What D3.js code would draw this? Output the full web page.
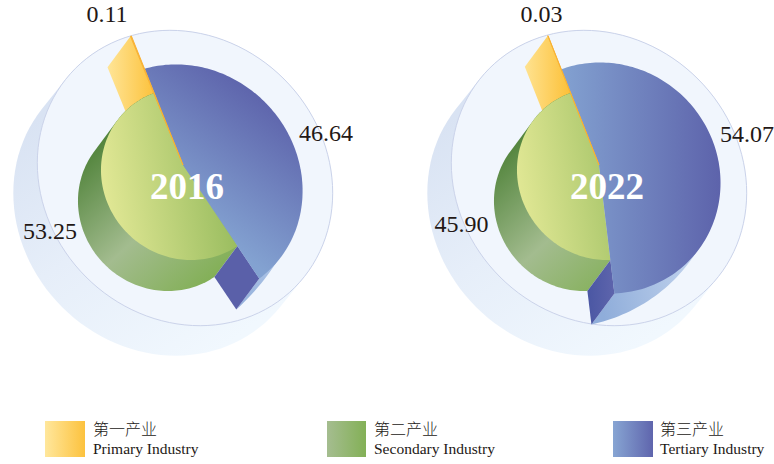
<!DOCTYPE html>
<html><head><meta charset="utf-8">
<script src="https://cdn.jsdelivr.net/npm/d3@7"></script>
<style>html,body{margin:0;padding:0;background:#fff}svg{display:block}</style>
</head><body><svg id="c" width="774" height="464"></svg>
<script>
const years = ["2016", "2022"];
const primary = [0.11, 0.03];
const secondary = [53.25, 45.90];
const tertiary = [46.64, 54.07];
const legendZh = ["第一产业", "第二产业", "第三产业"];
const legendEn = ["Primary Industry", "Secondary Industry", "Tertiary Industry"];

const SERIF = '"Liberation Serif","Times New Roman",serif';
const INK = "#231815";
const DEG = Math.PI / 180;
const layout = [
  { dx: 0, v: [183, 165], a0: -21.8, blue: { c: [185, 182], a: 122, b: 113 }, green: { c: [187, 174], a: 88, b: 84 },
    sweepFrom: 92, sweepPow: 1.8, year: [150, 199],
    labels: [[86.5, 22], [23, 239], [299, 141]], blueGrad: [[215, 235], [300, 120]], creGrad: [[229, 309], [300, 220]] },
  { dx: 414, v: [599, 165], a0: -21.5, blue: { c: [605, 178], a: 118, b: 113 }, green: { c: [603, 174], a: 88, b: 84 },
    sweepFrom: 88, sweepPow: 1.3, year: [570, 199],
    labels: [[520.5, 22], [434.5, 232], [720, 142]], blueGrad: [[560, 170], [720, 170]], creGrad: [[600, 300], [705, 280]] }
];
const extrude = [-23, 31];
const disc = { c: [185, 178], a: 155, b: 140, shift: [-24, 30] };
const legendLayout = { swatchX: [45, 327, 613], swatchW: [40, 39, 40], textX: [93, 374, 660], y: 421, h: 36, zhY: 435, enY: 454 };

const svg = d3.select("#c");
const defs = svg.append("defs");
function grad(id, p0, p1, stops, bbox) {
  const g = defs.append("linearGradient").attr("id", id);
  if (bbox) g.attr("x1", 0).attr("x2", 1).attr("y1", 0).attr("y2", 0);
  else g.attr("gradientUnits", "userSpaceOnUse").attr("x1", p0[0]).attr("y1", p0[1]).attr("x2", p1[0]).attr("y2", p1[1]);
  stops.forEach(s => g.append("stop").attr("offset", s[0]).attr("stop-color", s[1]));
}
grad("lg0", null, null, [[0, "#ffe79c"], [1, "#fcc23e"]], true);
grad("lg1", null, null, [[0, "#a5bd90"], [1, "#83b056"]], true);
grad("lg2", null, null, [[0, "#87a5d3"], [1, "#5f65ad"]], true);

function ellipsePoints(c, a, b, n) {
  return d3.range(n).map(i => {
    const t = i / n * 2 * Math.PI, u = a * Math.cos(t), v = b * Math.sin(t);
    return [c[0] + (u + v) * Math.SQRT1_2, c[1] + (u - v) * Math.SQRT1_2];
  });
}
function hit(v, e, theta) {
  const dx = Math.sin(theta), dy = -Math.cos(theta);
  const wx = v[0] - e.c[0], wy = v[1] - e.c[1];
  const du = (dx + dy) * Math.SQRT1_2, dv = (dx - dy) * Math.SQRT1_2;
  const wu = (wx + wy) * Math.SQRT1_2, wv = (wx - wy) * Math.SQRT1_2;
  const A = du * du / (e.a * e.a) + dv * dv / (e.b * e.b);
  const B = 2 * (wu * du / (e.a * e.a) + wv * dv / (e.b * e.b));
  const C = wu * wu / (e.a * e.a) + wv * wv / (e.b * e.b) - 1;
  return (-B + Math.sqrt(B * B - 4 * A * C)) / (2 * A);
}
const polar = (v, r, th) => [v[0] + r * Math.sin(th), v[1] - r * Math.cos(th)];
const lineGen = d3.line();
const angleSteps = (a, b) => { const n = Math.max(2, Math.ceil(Math.abs(b - a) / (1.5 * DEG))); return d3.range(n + 1).map(i => a + (b - a) * i / n); };

years.forEach((year, i) => {
  const L = layout[i], id = "y" + i, V = L.v, E = extrude;
  const G = svg.append("g");
  const add = p => [p[0] + E[0], p[1] + E[1]];

  grad(id + "disc", [50 + L.dx, 110], [220 + L.dx, 350], [[0, "#d9e3f3"], [0.45, "#e6eef9"], [1, "#f1f8fe"]]);
  grad(id + "greenTop", [105 + L.dx, 190], [235 + L.dx, 170], [[0, "#e0e794"], [1, "#95ba5c"]]);
  grad(id + "greenSide", [85 + L.dx, 150], [215 + L.dx, 290], [[0, "#4f8239"], [0.52, "#a3bc8f"], [1, "#7fae50"]]);
  grad(id + "blueTop", L.blueGrad[0], L.blueGrad[1], [[0, "#83a2d1"], [1, "#5d63ab"]]);
  grad(id + "cres", L.creGrad[0], L.creGrad[1], [[0, "#8fadda"], [1, "#c4d5ee"]]);
  grad(id + "wall", [105 + L.dx, 0], [155 + L.dx, 0], [[0, "#ffe79c"], [1, "#fcc13a"]]);
  grad(id + "bwall", [590 * i + 211 * (1 - i), 0], [617 * i + 252 * (1 - i), 0], i ? [[0, "#4c58a4"], [1, "#6066ad"]] : [[0, "#5a60a9"], [1, "#5a60a9"]]);

  const vals = [primary[i], secondary[i], tertiary[i]];
  const a0 = L.a0 * DEG;
  const arcs = d3.pie().sort(null).startAngle(a0).endAngle(a0 - 2 * Math.PI)(vals);
  const [pr, se, te] = arcs;
  // counter-clockwise pie: each slice runs from startAngle down to endAngle
  const blueEnd = te.startAngle + 2 * Math.PI, blueStart = te.endAngle + 2 * Math.PI;
  const tertLo = Math.min(te.startAngle, te.endAngle) + 2 * Math.PI;

  // background discs
  const top = ellipsePoints(disc.c.map((d, k) => d + (k ? 0 : L.dx)), disc.a, disc.b, 120);
  const low = top.map(p => [p[0] + disc.shift[0], p[1] + disc.shift[1]]);
  G.append("path").attr("d", lineGen(d3.polygonHull(top.concat(low))) + "Z").attr("fill", `url(#${id}disc)`);
  G.append("path").attr("d", lineGen(top) + "Z").attr("fill", "#f1f6fd").attr("stroke", "#cbd3ea").attr("stroke-width", 1);

  const edgeB = th => polar(V, hit(V, L.blue, th), th);
  const edgeG = th => polar(V, hit(V, L.green, th), th);
  const endB = tertLo + (te.startAngle - te.endAngle);
  const startB = tertLo;

  // tertiary underside crescent
  const from = L.sweepFrom * DEG;
  const cres = angleSteps(from, endB).map(th => {
    const t = Math.pow((th - from) / (endB - from), L.sweepPow), p = edgeB(th);
    return [p[0] + E[0] * t, p[1] + E[1] * t];
  });
  G.append("path").attr("d", lineGen([V, edgeB(from)].concat(cres, [edgeB(endB)])) + "Z").attr("fill", `url(#${id}cres)`);

  // primary wall
  const prTh = pr.endAngle;
  const tip = polar(V, 139, prTh);
  G.append("path").attr("d", lineGen([V, tip, add(tip), add(V)]) + "Z").attr("fill", `url(#${id}wall)`);

  // secondary side
  const gAngles = angleSteps(se.startAngle, se.endAngle);
  const gPts = gAngles.map(edgeG);
  G.append("path").attr("d", lineGen(d3.polygonHull(gPts.concat(gPts.map(add)))) + "Z").attr("fill", `url(#${id}greenSide)`);

  // tertiary wall
  const gEnd = edgeG(se.endAngle), bEnd = edgeB(endB);
  G.append("path").attr("d", lineGen([gEnd, bEnd, add(bEnd), add(gEnd)]) + "Z").attr("fill", `url(#${id}bwall)`);

  // top faces
  G.append("path").attr("d", lineGen([V].concat(gPts)) + "Z").attr("fill", `url(#${id}greenTop)`);
  G.append("path").attr("d", lineGen([V].concat(angleSteps(startB, endB).map(edgeB))) + "Z").attr("fill", `url(#${id}blueTop)`);

  // primary sliver
  G.append("path").attr("d", lineGen([V, polar(V, 139, pr.startAngle), polar(V, 139, pr.endAngle)]) + "Z")
    .attr("fill", "#f9b233").attr("stroke", "#f9b233").attr("stroke-width", 1).attr("stroke-linejoin", "round");

  // text
  G.append("text").attr("x", L.year[0]).attr("y", L.year[1]).text(year)
    .attr("font-family", SERIF).attr("font-weight", 700).attr("font-size", 37).attr("fill", "#fff");
  vals.forEach((d, k) => G.append("text").attr("x", L.labels[k][0]).attr("y", L.labels[k][1]).text(d.toFixed(2))
    .attr("font-family", SERIF).attr("font-size", 24).attr("fill", INK));
});

legendZh.forEach((zh, i) => {
  const l = legendLayout, g = svg.append("g");
  g.append("rect").attr("x", l.swatchX[i]).attr("y", l.y).attr("width", l.swatchW[i]).attr("height", l.h).attr("fill", `url(#lg${i})`);
  g.append("text").attr("x", l.textX[i]).attr("y", l.zhY).text(zh)
    .attr("font-family", '"Noto Sans CJK SC"').attr("font-weight", 300).attr("font-size", 16).attr("fill", INK);
  g.append("text").attr("x", l.textX[i]).attr("y", l.enY).text(legendEn[i])
    .attr("font-family", SERIF).attr("font-size", 15.5).attr("fill", INK);
});
</script></body></html>
